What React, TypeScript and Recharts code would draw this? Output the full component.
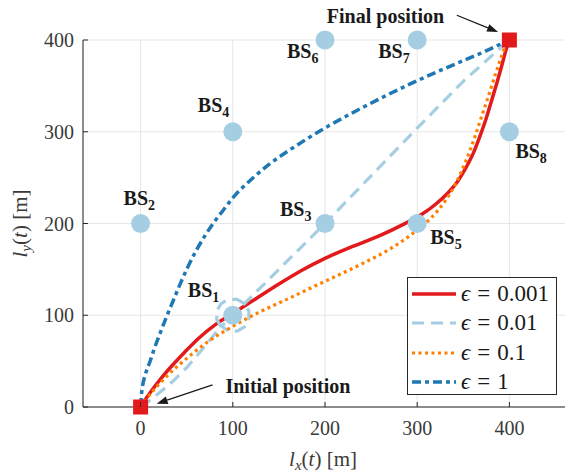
import React from 'react';
import {
  ComposedChart,
  Line,
  Scatter,
  XAxis,
  YAxis,
  CartesianGrid,
  Legend,
  ReferenceLine,
  ReferenceDot,
} from 'recharts';

// axis ticks
const xTicks = [0, 100, 200, 300, 400];
const yTicks = [0, 100, 200, 300, 400];

// base stations
const stations = [
  { name: '1', x: 100, y: 100 },
  { name: '2', x: 0, y: 200 },
  { name: '3', x: 200, y: 200 },
  { name: '4', x: 100, y: 300 },
  { name: '5', x: 300, y: 200 },
  { name: '6', x: 200, y: 400 },
  { name: '7', x: 300, y: 400 },
  { name: '8', x: 400, y: 300 },
];

// initial / final position
const endpoints = [
  { x: 0, y: 0 },
  { x: 400, y: 400 },
];

// trajectories, one per epsilon
const eps0001 = [
  { x: 0, y: 0 }, { x: 5, y: 8 }, { x: 12, y: 18 }, { x: 22, y: 31 }, { x: 34, y: 45 },
  { x: 48, y: 60 }, { x: 63, y: 75 }, { x: 80, y: 89 }, { x: 100, y: 102 }, { x: 125, y: 118 },
  { x: 150, y: 134 }, { x: 175, y: 149 }, { x: 200, y: 162 }, { x: 230, y: 175 }, { x: 260, y: 187 },
  { x: 285, y: 199 }, { x: 305, y: 210 }, { x: 320, y: 221 }, { x: 333, y: 233 }, { x: 344, y: 246 },
  { x: 353, y: 261 }, { x: 361, y: 277 }, { x: 368, y: 295 }, { x: 375, y: 315 }, { x: 381, y: 335 },
  { x: 387, y: 355 }, { x: 392, y: 373 }, { x: 396, y: 388 }, { x: 400, y: 400 },
];

const eps001 = [
  { x: 0, y: 0 }, { x: 10, y: 7 }, { x: 22, y: 17 }, { x: 35, y: 28 }, { x: 50, y: 43 },
  { x: 62, y: 57 }, { x: 72, y: 69 }, { x: 80, y: 79 }, { x: 87.3, y: 87.3 },
  { x: 82.6, y: 95.3 }, { x: 82.6, y: 104.7 }, { x: 87.3, y: 112.7 }, { x: 95.3, y: 117.4 },
  { x: 104.7, y: 117.4 }, { x: 112.7, y: 112.7 }, { x: 117.4, y: 104.7 }, { x: 117.4, y: 95.3 },
  { x: 112.7, y: 87.3 }, { x: 104.7, y: 82.6 }, { x: 95.3, y: 82.6 }, { x: 88, y: 88 },
  { x: 100, y: 100 }, { x: 150, y: 150 }, { x: 200, y: 200 }, { x: 250, y: 252 },
  { x: 300, y: 304 }, { x: 350, y: 355 }, { x: 400, y: 400 },
];

const eps01 = [
  { x: 0, y: 0 }, { x: 5, y: 7 }, { x: 12, y: 16 }, { x: 22, y: 27 }, { x: 35, y: 40 },
  { x: 50, y: 53 }, { x: 70, y: 69 }, { x: 100, y: 88 }, { x: 130, y: 104 }, { x: 160, y: 118 },
  { x: 200, y: 137 }, { x: 240, y: 156 }, { x: 270, y: 172 }, { x: 295, y: 189 }, { x: 315, y: 206 },
  { x: 330, y: 224 }, { x: 342, y: 244 }, { x: 352, y: 266 }, { x: 361, y: 290 }, { x: 369, y: 314 },
  { x: 377, y: 338 }, { x: 384, y: 360 }, { x: 390, y: 378 }, { x: 395, y: 392 }, { x: 400, y: 400 },
];

const eps1 = [
  { x: 0, y: 0 }, { x: 0.6, y: 10 }, { x: 2, y: 22 }, { x: 5, y: 35 }, { x: 10, y: 49 },
  { x: 15, y: 64 }, { x: 21, y: 80 }, { x: 28, y: 98 }, { x: 35, y: 115 }, { x: 42, y: 132 },
  { x: 50, y: 150 }, { x: 60, y: 170 }, { x: 70, y: 187 }, { x: 80, y: 202 }, { x: 90, y: 215 },
  { x: 100, y: 228 }, { x: 120, y: 248 }, { x: 140, y: 265 }, { x: 160, y: 279 }, { x: 180, y: 292 },
  { x: 205, y: 307 }, { x: 240, y: 326 }, { x: 290, y: 351 }, { x: 330, y: 369 }, { x: 370, y: 386 },
  { x: 400, y: 400 },
];

const epsLabels = ['0.001', '0.01', '0.1', '1'];

const RED = '#e31a1c';
const LIGHT_BLUE = '#a6cee3';
const ORANGE = '#ff7f00';
const DARK_BLUE = '#1f78b4';
const AXIS = '#262626';
const FONT = '"Liberation Serif", "Times New Roman", serif';

const seriesStyle = [
  { color: RED, dash: undefined, width: 3.5 },
  { color: LIGHT_BLUE, dash: '12 7', width: 3.2 },
  { color: ORANGE, dash: '3 3.5', width: 3.2 },
  { color: DARK_BLUE, dash: '9 4 4 4', width: 3.5 },
];

// pixel offsets of each BS label from its marker (text start, baseline)
const labelOffset: Record<string, [number, number]> = {
  '1': [-45, -18],
  '2': [-17, -19],
  '3': [-45, -8],
  '4': [-35, -20],
  '5': [13, 20],
  '6': [-38, 18],
  '7': [-39, 18],
  '8': [6, 26],
};

const StationShape = (props: any) => {
  const { cx, cy, payload } = props;
  const [dx, dy] = labelOffset[payload.name] || [0, 0];
  return (
    <g>
      <circle cx={cx} cy={cy} r={9.5} fill={LIGHT_BLUE} />
      <text x={cx + dx} y={cy + dy} fontFamily={FONT} fontWeight="bold" fontSize={20} fill="#1a1a1a">
        BS<tspan fontSize={14} dy={5}>{payload.name}</tspan>
      </text>
    </g>
  );
};

const SquareShape = (props: any) => {
  const { cx, cy } = props;
  return <rect x={cx - 7.5} y={cy - 7.5} width={15} height={15} fill={RED} />;
};

const BottomTick = (props: any) => {
  const { x, y, payload } = props;
  return (
    <g>
      <line x1={x} y1={y} x2={x} y2={y - 5} stroke={AXIS} strokeWidth={1} />
      <text x={x} y={y + 28} textAnchor="middle" fontFamily={FONT} fontSize={20} fill="#3a3a3a">
        {payload.value}
      </text>
    </g>
  );
};

const TopTick = (props: any) => {
  const { x, y } = props;
  return <line x1={x} y1={y} x2={x} y2={y + 5} stroke={AXIS} strokeWidth={1} />;
};

const LeftTick = (props: any) => {
  const { x, y, payload } = props;
  return (
    <g>
      <line x1={x} y1={y} x2={x + 5} y2={y} stroke={AXIS} strokeWidth={1} />
      <text x={x - 9} y={y} dy="0.35em" textAnchor="end" fontFamily={FONT} fontSize={20} fill="#3a3a3a">
        {payload.value}
      </text>
    </g>
  );
};

const RightTick = (props: any) => {
  const { x, y } = props;
  return <line x1={x} y1={y} x2={x - 5} y2={y} stroke={AXIS} strokeWidth={1} />;
};

const Arrow = (props: any) => {
  const { x1, y1, x2, y2 } = props;
  const a = Math.atan2(y2 - y1, x2 - x1);
  const len = 11;
  const half = 4;
  const bx = x2 - len * Math.cos(a);
  const by = y2 - len * Math.sin(a);
  const pts = `${x2},${y2} ${bx - half * Math.sin(a)},${by + half * Math.cos(a)} ${bx + half * Math.sin(a)},${by - half * Math.cos(a)}`;
  return (
    <g>
      <line x1={x1} y1={y1} x2={bx} y2={by} stroke="#1a1a1a" strokeWidth={1.3} />
      <polygon points={pts} fill="#1a1a1a" />
    </g>
  );
};

const annotationText = (text: string) => (props: any) => (
  <text x={props.cx} y={props.cy} fontFamily={FONT} fontWeight="bold" fontSize={20} fill="#1a1a1a">
    {text}
  </text>
);

const XLabel = (props: any) => {
  const { viewBox } = props;
  const cx = viewBox.x + viewBox.width / 2;
  return (
    <text x={cx - 2} y={viewBox.y + 59} textAnchor="middle" fontFamily={FONT} fontSize={21} fill="#3a3a3a">
      <tspan fontStyle="italic">l</tspan>
      <tspan fontStyle="italic" fontSize={15} dy={4}>x</tspan>
      <tspan dy={-4}>(</tspan>
      <tspan fontStyle="italic">t</tspan>
      <tspan>)  [m]</tspan>
    </text>
  );
};

const YLabel = (props: any) => {
  const { viewBox } = props;
  const cy = viewBox.y + viewBox.height / 2;
  const x = 27;
  return (
    <text
      x={x}
      y={cy}
      transform={`rotate(-90 ${x} ${cy})`}
      textAnchor="middle"
      fontFamily={FONT}
      fontSize={21}
      fill="#3a3a3a"
    >
      <tspan fontStyle="italic">l</tspan>
      <tspan fontStyle="italic" fontSize={15} dy={4}>y</tspan>
      <tspan dy={-4}>(</tspan>
      <tspan fontStyle="italic">t</tspan>
      <tspan>)  [m]</tspan>
    </text>
  );
};

const LegendBox = () => (
  <div
    style={{
      width: 150,
      height: 118,
      border: `1px solid ${AXIS}`,
      background: '#fff',
      boxSizing: 'border-box',
      padding: '1px 0 0 4px',
      fontFamily: FONT,
      fontSize: 23,
      color: '#1a1a1a',
    }}
  >
    {epsLabels.map((lab, i) => {
      const s = seriesStyle[i];
      return (
        <div key={lab} style={{ display: 'flex', alignItems: 'center', height: 29.5 }}>
          <svg width={44} height={10} style={{ marginRight: 5 }}>
            <line
              x1={0}
              y1={5}
              x2={44}
              y2={5}
              stroke={s.color}
              strokeWidth={s.width}
              strokeDasharray={s.dash}
            />
          </svg>
          <span style={{ fontStyle: 'italic' }}>ϵ</span>
          <span style={{ margin: '0 7px' }}>=</span>
          <span>{lab}</span>
        </div>
      );
    })}
  </div>
);

const series = [eps0001, eps001, eps01, eps1];

export default function App() {
  return (
    <div style={{ position: 'absolute', left: 0, top: 0, width: 565, height: 472, overflow: 'hidden', background: '#fff' }}>
      <ComposedChart width={568} height={472} margin={{ top: 40, right: 1, bottom: 0, left: 23 }}>
        <CartesianGrid stroke="#e6e6e6" strokeWidth={1} />
        <XAxis
          dataKey="x"
          type="number"
          domain={[-62.5, 462.5]}
          ticks={xTicks}
          interval={0}
          height={65}
          tickSize={0}
          tickMargin={0}
          tickLine={false}
          tick={<BottomTick />}
          axisLine={{ stroke: AXIS }}
          label={<XLabel />}
        />
        <XAxis
          xAxisId="top"
          orientation="top"
          type="number"
          domain={[-62.5, 462.5]}
          ticks={xTicks}
          interval={0}
          height={0}
          tickSize={0}
          tickMargin={0}
          tickLine={false}
          tick={<TopTick />}
          axisLine={{ stroke: AXIS }}
        />
        <YAxis
          dataKey="y"
          type="number"
          domain={[0, 400]}
          ticks={yTicks}
          interval={0}
          width={60}
          tickSize={0}
          tickMargin={0}
          tickLine={false}
          tick={<LeftTick />}
          axisLine={{ stroke: AXIS }}
          label={<YLabel />}
        />
        <YAxis
          yAxisId="right"
          orientation="right"
          type="number"
          domain={[0, 400]}
          ticks={yTicks}
          interval={0}
          width={0}
          tickSize={0}
          tickMargin={0}
          tickLine={false}
          tick={<RightTick />}
          axisLine={{ stroke: AXIS }}
        />

        {series.map((d, i) => (
          <Line
            key={epsLabels[i]}
            data={d}
            dataKey="y"
            name={`ϵ = ${epsLabels[i]}`}
            type={i === 1 ? 'linear' : 'monotone'}
            stroke={seriesStyle[i].color}
            strokeWidth={seriesStyle[i].width}
            strokeDasharray={seriesStyle[i].dash}
            dot={false}
            activeDot={false}
            isAnimationActive={false}
          />
        ))}

        <Scatter data={stations} shape={<StationShape />} isAnimationActive={false} legendType="none" />
        <Scatter data={endpoints} shape={<SquareShape />} isAnimationActive={false} legendType="none" />

        <ReferenceLine
          segment={[{ x: 78, y: 24 }, { x: 17.4, y: 3.6 }]}
          ifOverflow="visible"
          shape={<Arrow />}
        />
        <ReferenceLine
          segment={[{ x: 343, y: 427 }, { x: 387.7, y: 408.7 }]}
          ifOverflow="visible"
          shape={<Arrow />}
        />
        <ReferenceDot x={92} y={15.6} r={0} ifOverflow="visible" shape={annotationText('Initial position')} />
        <ReferenceDot x={202} y={418.5} r={0} ifOverflow="visible" shape={annotationText('Final position')} />

        <Legend
          layout="horizontal"
          verticalAlign="middle"
          align="center"
          content={<LegendBox />}
          wrapperStyle={{ left: 407, top: 277, width: 150, height: 118 }}
        />
      </ComposedChart>
    </div>
  );
}
